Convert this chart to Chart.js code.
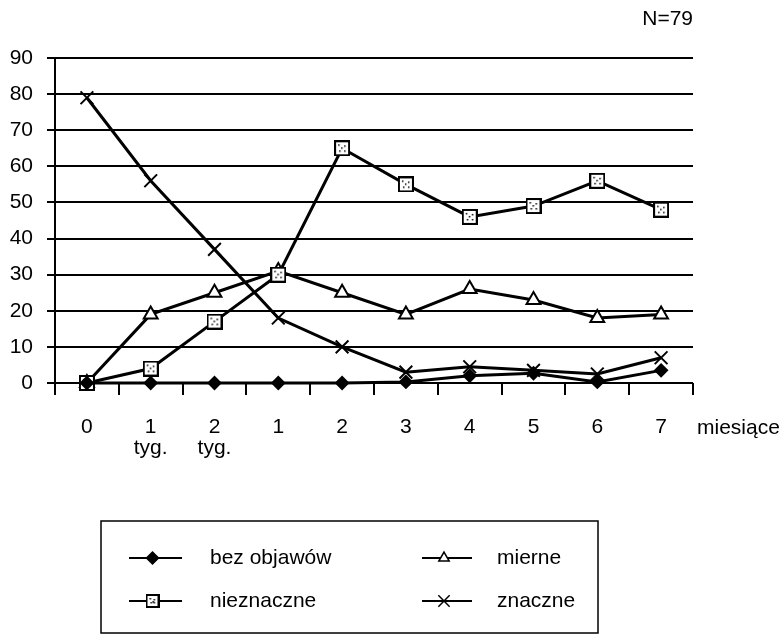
<!DOCTYPE html>
<html>
<head>
<meta charset="utf-8">
<script src="https://cdn.jsdelivr.net/npm/chart.js@4.4.0/dist/chart.umd.min.js"></script>
<style>
  body { margin: 0; background: #fff; }
  canvas { display: block; }
</style>
</head>
<body>
<canvas id="myChart" width="784" height="635"></canvas>
<script>
// values (N = 79 patients)
const LABELS = ['0', ['1', 'tyg.'], ['2', 'tyg.'], '1', '2', '3', '4', '5', '6', '7'];
const BEZ_OBJAWOW = [0, 0, 0, 0, 0, 0.3, 2, 2.7, 0.3, 3.5];
const NIEZNACZNE = [0, 4, 17, 30, 65, 55, 46, 49, 56, 48];
const MIERNE = [0, 19, 25, 31, 25, 19, 26, 23, 18, 19];
const ZNACZNE = [79, 56, 37, 18, 10, 3, 4.5, 3.5, 2.5, 7];
const Y_MIN = 0, Y_MAX = 90, Y_STEP = 10;

const FONT = '"Liberation Sans", Arial, Helvetica, sans-serif';
const FSIZE = 21;

// little dotted square used as the "nieznaczne" marker
function dottedSquare(size) {
    var c = document.createElement('canvas');
    c.width = size; c.height = size;
    var g = c.getContext('2d');
    g.fillStyle = '#fff';
    g.fillRect(0, 0, size, size);
    g.strokeStyle = '#000';
    g.lineWidth = 2;
    g.strokeRect(1, 1, size - 2, size - 2);
    g.fillStyle = '#000';
    [[4, 4], [size - 6, 5], [5, size - 6], [size - 6, size - 6], [7, 7]].forEach(p => g.fillRect(p[0], p[1], 1.5, 1.5));
    return c;
}
const squareMark = dottedSquare(16);
const squareSmall = dottedSquare(14);

function series(label, data, style, radius, fill, legendStyle) {
    return {
        label: label,
        data: data,
        borderColor: '#000',
        borderWidth: 3,
        tension: 0,
        fill: false,
        clip: false,
        pointStyle: style,
        pointRadius: radius,
        pointBackgroundColor: fill,
        pointBorderColor: '#000',
        pointBorderWidth: 2,
        legendStyle: legendStyle || style
    };
}

// text outside the plot and the boxed legend at the bottom
const extras = {
    id: 'extras',
    afterDraw(chart) {
        const ctx = chart.ctx;
        ctx.save();
        ctx.fillStyle = '#000';
        ctx.font = FSIZE + 'px ' + FONT;
        ctx.textBaseline = 'middle';
        ctx.textAlign = 'right';
        ctx.fillText('N=79', chart.chartArea.right, 19);
        ctx.textAlign = 'left';
        ctx.fillText('miesiące', 697, 428);

        // legend box
        ctx.strokeStyle = '#000';
        ctx.lineWidth = 1.5;
        ctx.strokeRect(101, 521, 497, 112);

        const cols = [{ x0: 129, x1: 182, tx: 210 }, { x0: 422, x1: 472, tx: 497 }];
        const rows = [558, 601];
        chart.data.datasets.forEach((ds, i) => {
            const col = cols[Math.floor(i / 2)], y = rows[i % 2];
            ctx.lineWidth = 2;
            ctx.beginPath();
            ctx.moveTo(col.x0, y);
            ctx.lineTo(col.x1, y);
            ctx.stroke();
            const mx = (col.x0 + col.x1) / 2 - 3;
            ctx.fillStyle = ds.pointBackgroundColor;
            ctx.strokeStyle = '#000';
            ctx.lineWidth = 1.5;
            Chart.helpers.drawPoint(ctx, {
                pointStyle: ds.legendStyle,
                radius: ds.pointStyle === 'crossRot' ? 8 : 6,
                borderWidth: 1.5,
                rotation: 0
            }, mx, y);
            ctx.fillStyle = '#000';
            ctx.font = FSIZE + 'px ' + FONT;
            ctx.fillText(ds.label, col.tx, y);
        });
        ctx.restore();
    }
};

var ctx = document.getElementById('myChart');
const chart = new Chart(ctx, {
    type: 'line',
    data: {
        labels: LABELS,
        datasets: [
            series('bez objawów', BEZ_OBJAWOW, 'rectRot', 6, '#000'),
            series('nieznaczne', NIEZNACZNE, squareMark, 8, '#fff', squareSmall),
            series('mierne', MIERNE, 'triangle', 8, '#fff'),
            series('znaczne', ZNACZNE, 'crossRot', 9, '#000')
        ]
    },
    options: {
        responsive: false,
        animation: false,
        layout: { padding: { top: 58, right: 91, bottom: 152, left: 0 } },
        plugins: {
            legend: { display: false },
            tooltip: { enabled: false }
        },
        scales: {
            x: {
                offset: true,
                grid: { drawOnChartArea: false, offset: true, color: '#000', lineWidth: 2, tickLength: 12 },
                border: { display: false },
                ticks: {
                    color: '#000',
                    font: { family: FONT, size: FSIZE, lineHeight: 1.0 },
                    padding: 22,
                    maxRotation: 0,
                    autoSkip: false
                },
                afterFit: s => { s.height = 100; }
            },
            y: {
                min: Y_MIN,
                max: Y_MAX,
                ticks: { stepSize: Y_STEP, color: '#000', font: { family: FONT, size: FSIZE }, padding: 14 },
                grid: { color: '#000', lineWidth: 2, tickLength: 8 },
                border: { color: '#000', width: 2 },
                afterFit: s => { s.width = 55; }
            }
        }
    },
    plugins: [extras]
});
</script>
</body>
</html>
